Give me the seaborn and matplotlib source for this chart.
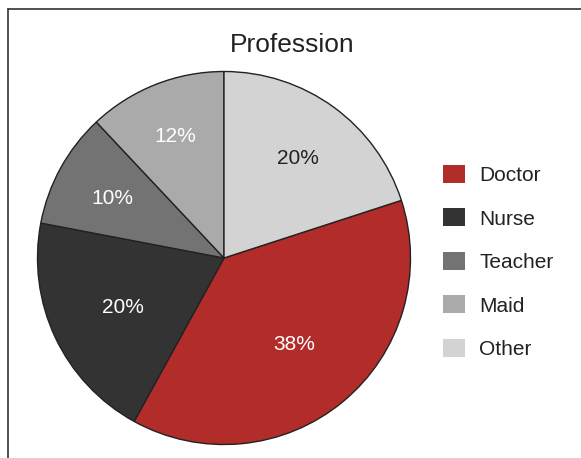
import matplotlib
matplotlib.use("Agg")
import matplotlib.pyplot as plt
from matplotlib.lines import Line2D
import seaborn as sns
import numpy as np

categories = ["Doctor", "Nurse", "Teacher", "Maid", "Other"]
shares = [38, 20, 10, 12, 20]
colors = ["#B22D29", "#333333", "#737373", "#AAAAAA", "#D3D3D3"]
text_colors = ["white", "white", "white", "white", "#222222"]
label_r = [0.59, 0.60, 0.68, 0.71, 0.67]

sns.set_style("white")
plt.rcParams["font.family"] = ["Liberation Sans", "DejaVu Sans"]

W, H = 581, 458
dpi = 100
fig = plt.figure(figsize=(W / dpi, H / dpi), dpi=dpi)
fig.patch.set_facecolor("white")

cx, cy, r = 224, 258, 186.5
ax = fig.add_axes([(cx - r) / W, (H - cy - r) / H, 2 * r / W, 2 * r / H])

wedges, texts, autotexts = ax.pie(
    shares, colors=colors, startangle=18, counterclock=False,
    autopct="%.0f%%", pctdistance=0.65,
    wedgeprops=dict(edgecolor="#222222", linewidth=1.0),
    textprops=dict(fontsize=15),
)
total = float(sum(shares))
start = 18.0
for i, (t, v) in enumerate(zip(autotexts, shares)):
    ang = np.deg2rad(start - 360 * v / total / 2)
    start -= 360 * v / total
    t.set_position((label_r[i] * np.cos(ang), label_r[i] * np.sin(ang)))
    t.set_color(text_colors[i])
    t.set_ha("center")
    t.set_va("center_baseline")
ax.set_xlim(-1, 1)
ax.set_ylim(-1, 1)
ax.set_aspect("equal")
ax.axis("off")

fig.text(292 / W, 1 - 43 / H, "Profession", fontsize=19, ha="center", va="center_baseline", color="#222222")

leg = fig.legend(
    wedges, categories, loc="center left",
    bbox_to_anchor=(443 / W, 1 - 262 / H),
    frameon=False, fontsize=15, handlelength=1.05, handleheight=0.95,
    handletextpad=0.68, labelspacing=1.12, borderpad=0, borderaxespad=0,
)
for h in leg.legend_handles:
    h.set_edgecolor("none")
for t in leg.get_texts():
    t.set_color("#222222")

fig.add_artist(Line2D([8 / W, 8 / W], [0, 1 - 9 / H], transform=fig.transFigure, color="#333333", lw=1.2))
fig.add_artist(Line2D([8 / W, 1], [1 - 9 / H, 1 - 9 / H], transform=fig.transFigure, color="#333333", lw=1.2))

fig.savefig("out.png", dpi=dpi, facecolor="white")
